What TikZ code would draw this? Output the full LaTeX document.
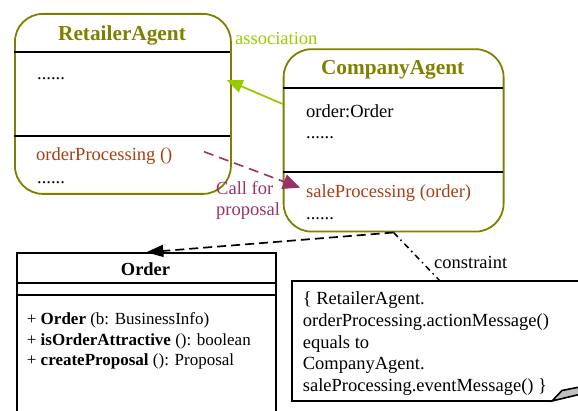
\documentclass[tikz,border=0pt]{standalone}
\usepackage{fontspec}
\setmainfont{Liberation Serif}
\usetikzlibrary{arrows.meta}
\definecolor{olivec}{RGB}{128,128,0}
\definecolor{assocc}{RGB}{153,204,0}
\definecolor{callc}{RGB}{153,51,102}
\definecolor{methc}{RGB}{168,62,20}
\definecolor{foldc}{RGB}{192,192,192}
\begin{document}
\begin{tikzpicture}[x=1pt,y=-1pt,
  agentbox/.style={draw=olivec, line width=1.8pt, rounded corners=28pt, inner sep=0pt, anchor=north west},
  classbox/.style={draw=black, line width=1.6pt, inner sep=0pt, anchor=north west},
  sepline/.style={black, line width=1.8pt},
  bodytxt/.style={font=\fontsize{18.5}{21.7}\selectfont, inner sep=0pt, anchor=base west},
  titletxt/.style={font=\fontsize{21.3}{24}\selectfont\bfseries, text=olivec, inner sep=0pt, anchor=base},
  methtxt/.style={bodytxt, text=methc},
  ordtxt/.style={font=\fontsize{17}{20}\selectfont, inner sep=0pt, anchor=base west},
  assocarrow/.style={draw=assocc, line width=1.8pt, -{Triangle[length=16pt,width=13pt]}},
  callarrow/.style={draw=callc, line width=1.6pt, dash pattern=on 10pt off 6pt, -{Triangle[length=17pt,width=15pt]}},
  deparrow/.style={draw=black, line width=1.7pt, dash pattern=on 9pt off 5pt, -{Triangle[length=17pt,width=12pt]}},
  constrline/.style={draw=black, line width=1.5pt, dash pattern=on 6pt off 4pt on 1.5pt off 4pt},
  notebox/.style={draw=black, line width=1.6pt}
]
\useasboundingbox (0,0) rectangle (578,411);
\clip (0,0) rectangle (578,411);

% RetailerAgent
\node[agentbox, minimum width=216pt, minimum height=180pt] (ra) at (14,13) {};
\draw[sepline] (14,51.7) -- (230,51.7);
\draw[sepline] (14,135.7) -- (230,135.7);
\node[titletxt] (ratitle) at (122,40.7) {RetailerAgent};
\node[bodytxt] (raattr) at (37,80) {......};
\node[methtxt] (raop) at (36,160.7) {orderProcessing ()};
\node[bodytxt] (raop2) at (37,183.3) {......};

% CompanyAgent
\node[agentbox, minimum width=220pt, minimum height=182.4pt] (ca) at (282.7,48.3) {};
\draw[sepline] (282.7,87.7) -- (502.7,87.7);
\draw[sepline] (282.7,172.3) -- (502.7,172.3);
\node[titletxt] (catitle) at (392.7,75) {CompanyAgent};
\node[bodytxt] (caattr) at (306,117.3) {order:Order};
\node[bodytxt] (caattr2) at (306,138.3) {......};
\node[methtxt] (caop) at (306,197.7) {saleProcessing (order)};
\node[bodytxt] (caop2) at (306,220) {......};

% association
\coordinate (asfrom) at (282.7,104);
\coordinate (asto) at (226.7,80);
\draw[assocarrow] (asfrom) -- (asto);
\node[bodytxt, text=assocc] (assoclbl) at (235,45) {association};

% call for proposal
\coordinate (cfpfrom) at (204,151.7);
\coordinate (cfpto) at (300,187.7);
\draw[callarrow] (cfpfrom) -- (cfpto);
\node[bodytxt, text=callc] (call1) at (216,194.5) {Call for};
\node[bodytxt, text=callc] (call2) at (216,216) {proposal};

% Order class
\node[classbox, minimum width=259pt, minimum height=180pt] (ord) at (16,252.3) {};
\draw[sepline] (16,282.7) -- (275,282.7);
\draw[sepline] (16,295) -- (275,295);
\node[font=\fontsize{18.4}{20}\selectfont\bfseries, inner sep=0pt, anchor=base] (ordtitle) at (145.5,276) {Order};
\node[ordtxt] (m1) at (26.7,325) {+ \textbf{Order} (b: BusinessInfo)};
\node[ordtxt] (m2) at (26.7,345) {+ \textbf{isOrderAttractive} (): boolean};
\node[ordtxt] (m3) at (26.7,365) {+ \textbf{createProposal} (): Proposal};

% dependency
\draw[deparrow] (ca.south) -- (ord.north);

% note
\draw[notebox] (552,401) -- (292,401) -- (292,281) -- (600,281);
\filldraw[notebox, fill=foldc] (552,401) -- (562,390.5) -- (600,383) -- (600,389.5) -- cycle;
\coordinate (notetop) at (440,281);
\draw[constrline] (ca.south) -- (notetop);
\node[bodytxt] (constrlbl) at (434,268.3) {constraint};
\node[bodytxt] (n1) at (302.7,305) {\{ RetailerAgent.};
\node[bodytxt] (n2) at (302.7,326.7) {orderProcessing.actionMessage()};
\node[bodytxt] (n3) at (302.7,348.4) {equals to};
\node[bodytxt] (n4) at (302.7,370) {CompanyAgent.};
\node[bodytxt] (n5) at (302.7,391.7) {saleProcessing.eventMessage() \}};
\end{tikzpicture}
\end{document}
